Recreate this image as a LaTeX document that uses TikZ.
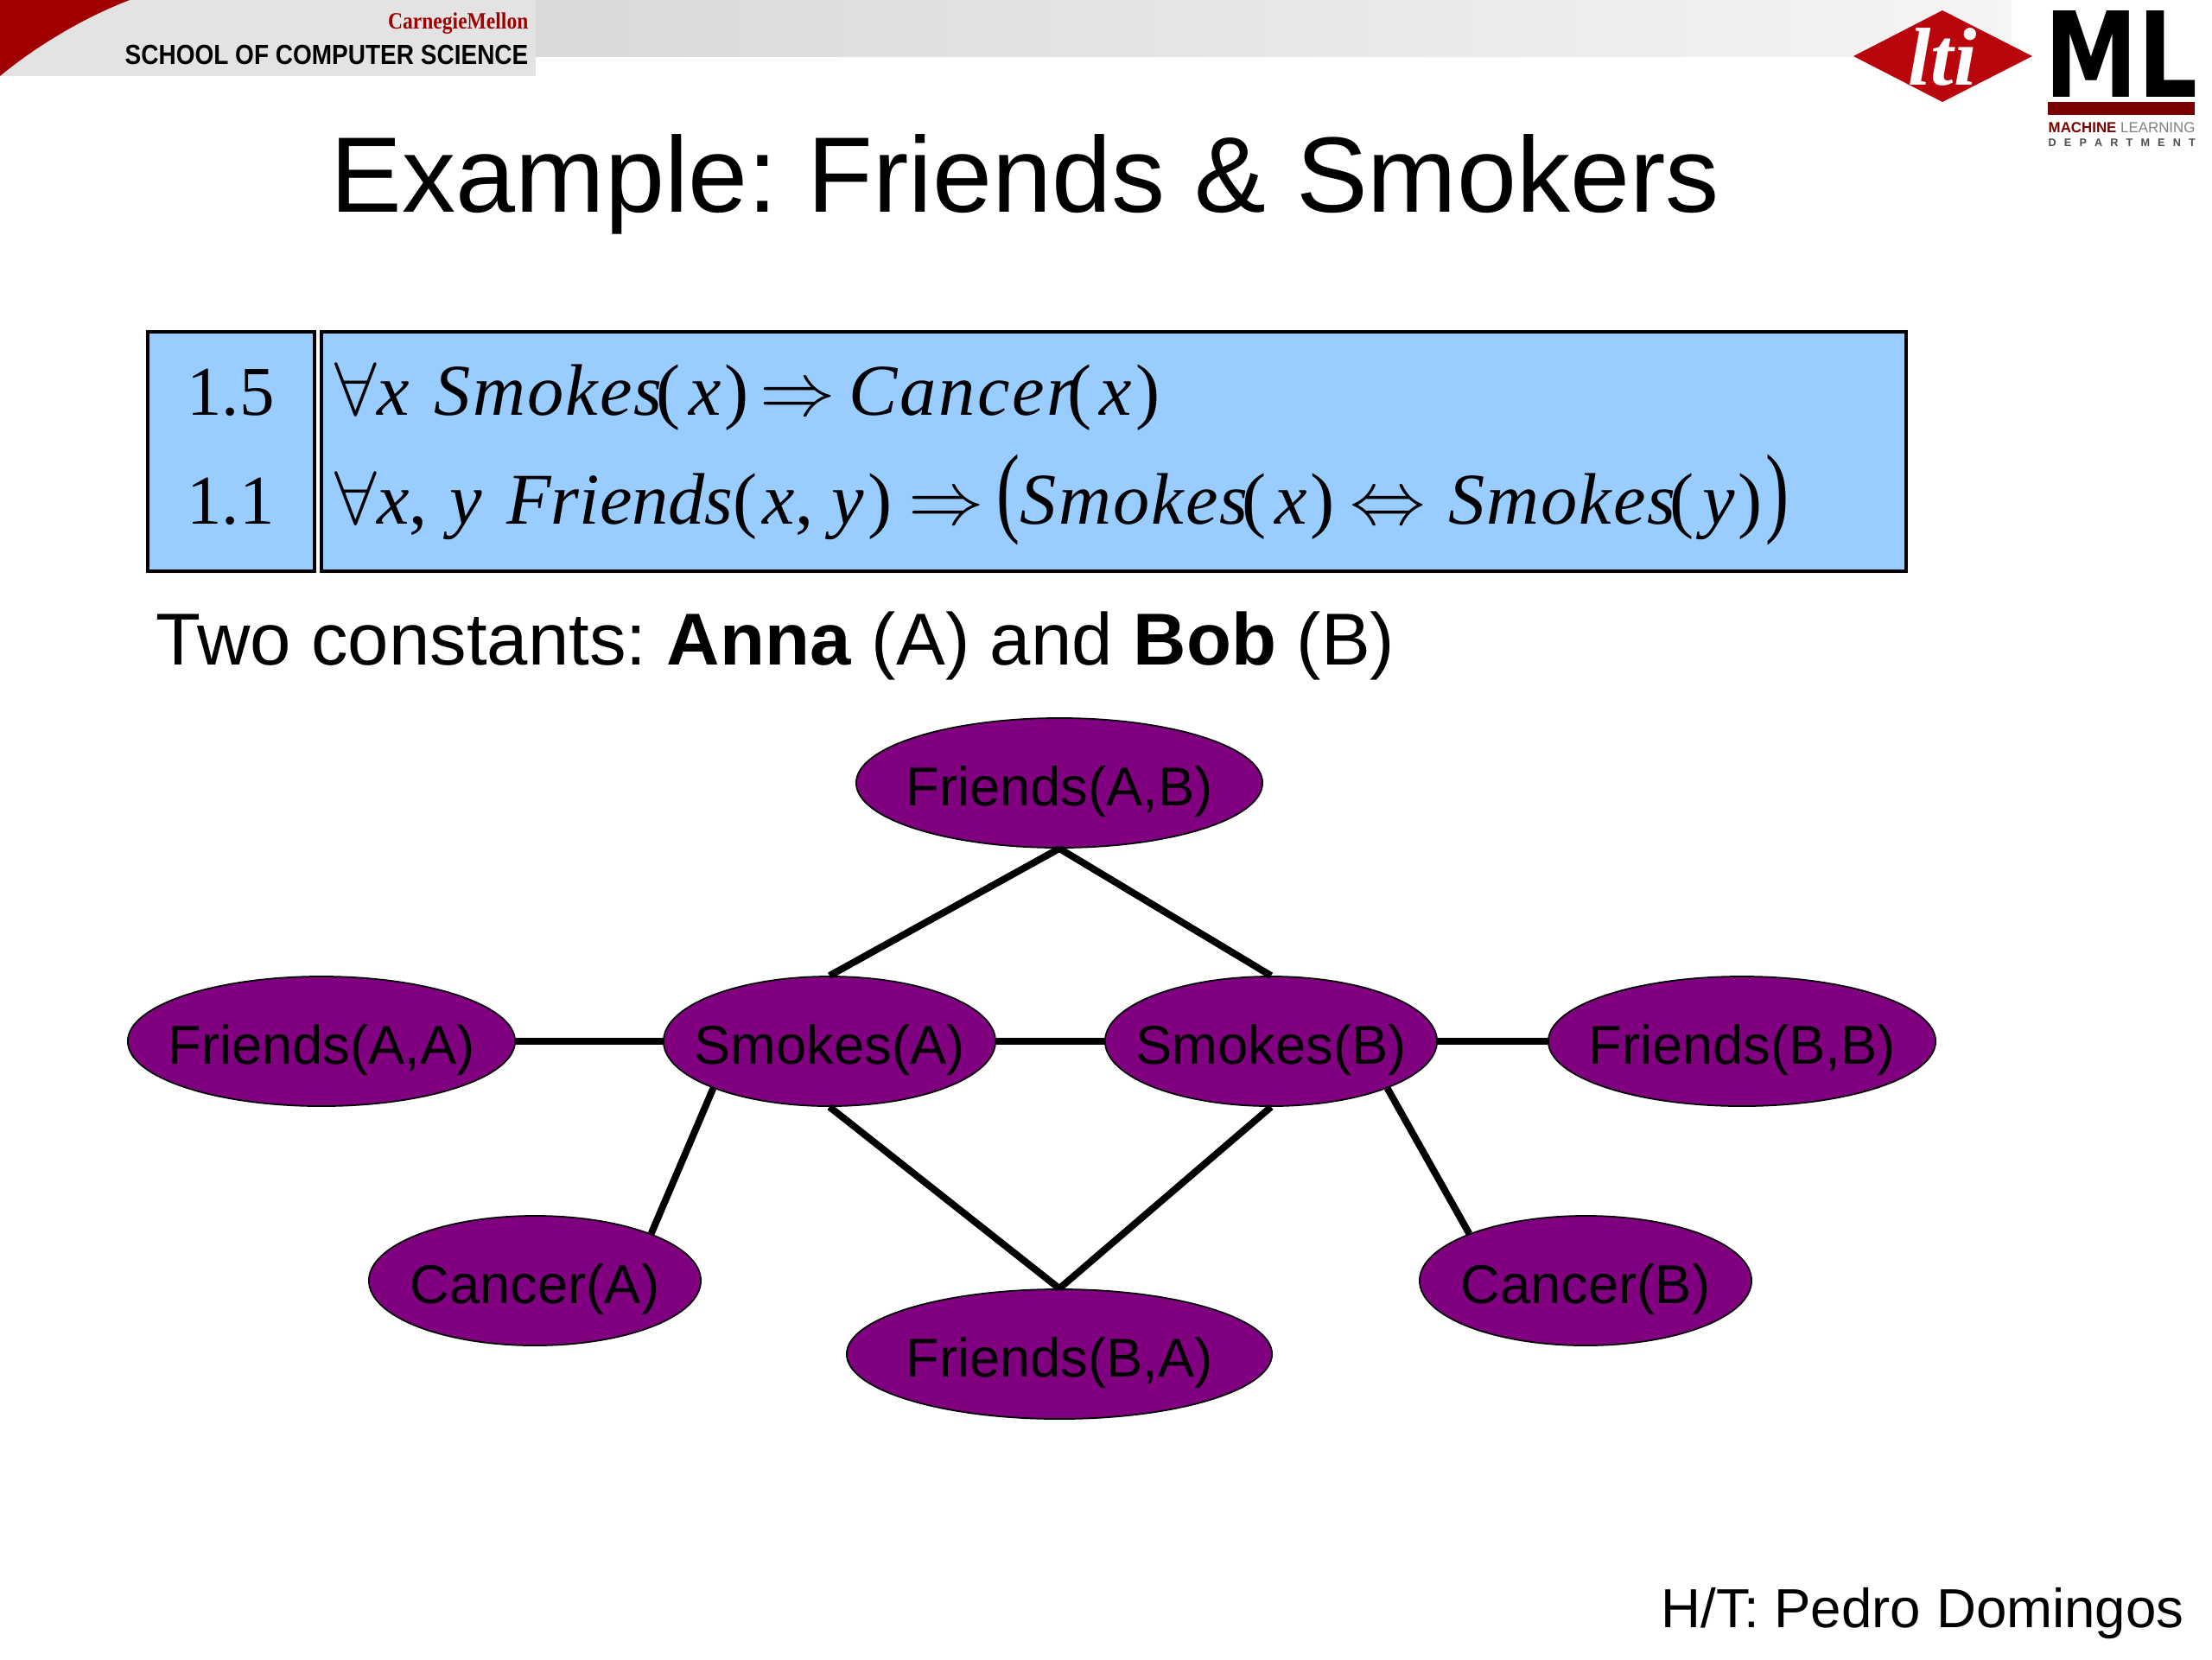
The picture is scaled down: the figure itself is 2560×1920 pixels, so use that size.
\documentclass[tikz,border=0pt]{standalone}
\usepackage{amsmath}
\usepackage{fontspec}
\setmainfont{Liberation Sans}
\newfontfamily\timesf{Liberation Serif}
\newfontfamily\mlf{DejaVu Sans}
\usetikzlibrary{shapes.geometric}
\frenchspacing
\definecolor{atomfill}{HTML}{800080}
\definecolor{formulafill}{HTML}{99CCFF}
\definecolor{cmured}{HTML}{A00000}
\definecolor{ltired}{HTML}{B8060C}
\definecolor{barred}{HTML}{7A0000}
\newcommand{\atomlab}[1]{\makebox[0pt]{\raisebox{-7.4pt}[0pt][0pt]{#1}}}
\newcommand{\sz}[1]{\fontsize{#1}{#1}\selectfont}
\newcommand{\fnsmokes}{{\itshape\addfontfeature{LetterSpace=2.5}Smokes}\kern-.08em}
\newcommand{\fncancer}{{\itshape\addfontfeature{LetterSpace=3}Cancer}\kern-.1em}
\newcommand{\argof}[1]{(\kern2.6pt\textit{#1}\kern1.2pt)}
\newcommand{\bigparen}[1]{\scalebox{0.7}[1]{\sz{33}#1}}
\tikzset{
  atom/.style={ellipse, draw=black, line width=0.5pt, fill=atomfill, inner sep=0pt,
               minimum height=1.5cm, font=\sz{18}},
  link/.style={draw=black, line width=0.08cm},
  formulabox/.style={draw=black, line width=0.9pt, fill=formulafill},
  formula/.style={anchor=base west, inner sep=0pt, font=\timesf\sz{24}},
  weight/.style={anchor=base, inner sep=0pt, font=\timesf\sz{23}},
  plain/.style={anchor=base west, inner sep=0pt},
}
\begin{document}
\begin{tikzpicture}[x=0.01cm,y=-0.01cm]
\useasboundingbox (0,0) rectangle (2560,1920);
\fill[left color=gray!30, right color=gray!8] (620,0) rectangle (2328,65);
\fill[gray!22] (0,0) rectangle (620,88);
\fill[cmured] (0,88) .. controls (30,63) and (85,25) .. (150,0) -- (0,0) -- cycle;
\node[anchor=base east, inner sep=0pt, text=cmured, font=\timesf\bfseries\sz{7.7}, xscale=0.87] (cmu) at (612,33) {CarnegieMellon};
\node[anchor=base east, inner sep=0pt, font=\bfseries\sz{9.1}, xscale=0.875] (scs) at (612,74) {SCHOOL OF COMPUTER SCIENCE};
\fill[ltired] (2145,65) -- (2248,12) -- (2352,65) -- (2248,118) -- cycle;
\node[inner sep=0pt, text=white, font=\timesf\bfseries\itshape\sz{27}] (lti) at (2248,66) {lti};
\node[anchor=base west, inner sep=0pt, font=\mlf\bfseries\sz{39}, xscale=0.79] (ml) at (2366,112) {ML};
\fill[barred] (2370,118) rectangle (2540,133);
\node[anchor=base west, inner sep=0pt, font=\sz{4.8}] (mld) at (2370,153) {\textcolor{barred}{\textbf{MACHINE}} \textcolor{gray}{LEARNING}};
\node[anchor=base west, inner sep=0pt, font=\bfseries\sz{3.6}, text=black!70] (dept) at (2370,169) {\makebox[1.7cm][s]{D\hfil E\hfil P\hfil A\hfil R\hfil T\hfil M\hfil E\hfil N\hfil T}};
\node[plain, font=\sz{35.3}] (title) at (382,245) {Example: Friends \& Smokers};
\draw[formulabox] (171,384) rectangle (364,661);
\draw[formulabox] (372,384) rectangle (2206,661);
\node[weight] (wone) at (267,480) {1.5};
\node[weight] (wtwo) at (267,606) {1.1};
\node[formula] (fone) at (387,480)
  {$\forall$\textit{x}\hspace{8.3pt}\fnsmokes\argof{x}\hspace{3.5pt}$\Rightarrow$\hspace{4.6pt}\fncancer\argof{x}};
\node[formula] (ftwo) at (387,606)
  {$\forall$\textit{x},\hspace{7.4pt}\textit{y}\hspace{7.9pt}\textit{Friends}(\kern1.7pt\textit{x},\hspace{6pt}\textit{y}\kern1.2pt)\hspace{5.5pt}$\Rightarrow$\hspace{4.2pt}\bigparen{(}\fnsmokes\argof{x}\hspace{5pt}$\Leftrightarrow$\hspace{7.4pt}\fnsmokes\argof{y}\kern1pt\bigparen{)}};
\node[plain, font=\sz{24.2}] (constants) at (180,769) {Two constants: \textbf{Anna} (A) and \textbf{Bob} (B)};
\node[atom, minimum width=4.7cm] (friendsAB) at (1226,906) {\atomlab{Friends(A,B)}};
\node[atom, minimum width=3.84cm] (smokesA) at (960,1205) {\atomlab{Smokes(A)}};
\node[atom, minimum width=3.84cm] (smokesB) at (1471,1205) {\atomlab{Smokes(B)}};
\node[atom, minimum width=4.48cm] (friendsAA) at (372,1205) {\atomlab{Friends(A,A)}};
\node[atom, minimum width=4.48cm] (friendsBB) at (2016,1205) {\atomlab{Friends(B,B)}};
\node[atom, minimum width=3.84cm] (cancerA) at (619,1482) {\atomlab{Cancer(A)}};
\node[atom, minimum width=3.84cm] (cancerB) at (1835,1482) {\atomlab{Cancer(B)}};
\node[atom, minimum width=4.92cm] (friendsBA) at (1226,1567) {\atomlab{Friends(B,A)}};
\draw[link] (friendsAB.south) -- (smokesA.north);
\draw[link] (friendsAB.south) -- (smokesB.north);
\draw[link] (friendsAA) -- (smokesA);
\draw[link] (smokesA) -- (smokesB);
\draw[link] (smokesB) -- (friendsBB);
\draw[link] (smokesA.202) -- (cancerA.22);
\draw[link] (smokesB.-22) -- (cancerB.158);
\draw[link] (smokesA.south) -- (friendsBA.north);
\draw[link] (smokesB.south) -- (friendsBA.north);
\node[plain, font=\sz{18.1}] (credit) at (1922,1883) {H/T: Pedro Domingos};
\end{tikzpicture}
\end{document}
